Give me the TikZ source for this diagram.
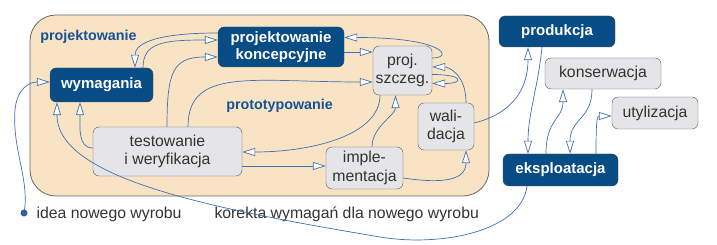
\documentclass[tikz,border=0pt]{standalone}
\usepackage{fontspec}
\setmainfont{Liberation Sans}
\definecolor{navy}{RGB}{8,76,134}
\definecolor{linkblue}{RGB}{62,112,180}
\definecolor{labelblue}{RGB}{22,82,150}
\definecolor{sand}{RGB}{249,227,197}
\definecolor{boxgray}{RGB}{229,229,231}
\usetikzlibrary{arrows.meta}

\begin{document}
\begin{tikzpicture}[x=1pt, y=-1pt,
  dbox/.style={draw=black!70, fill=navy, text=white, rounded corners=6pt, inner sep=0pt, align=center, font=\fontsize{15}{17.5}\selectfont\bfseries},
  gbox/.style={draw=black!65, fill=boxgray, text=black!80, rounded corners=6pt, inner sep=0pt, align=center, font=\fontsize{15.8}{18.5}\selectfont},
  stage/.style={text=labelblue, font=\fontsize{14.3}{16}\selectfont\bfseries},
  link/.style={draw=linkblue, line width=0.7pt, -{Triangle[length=13pt, width=8pt, fill=white]}},
  note/.style={anchor=west, text=black!80, font=\fontsize{15.8}{18}\selectfont}
]
  \useasboundingbox (0,0) rectangle (717,245);

  % design area
  \draw[fill=sand, draw=black!60, rounded corners=26pt, line width=0.8pt] (30,15) rectangle (489,196);
  \node[stage] (projlab) at (88.5,37) {projektowanie};
  \node[stage] (protolab) at (279.5,106) {prototypowanie};

  \node[dbox, minimum width=103pt, minimum height=34pt] (wym) at (101.5,85) {wymagania};
  \node[dbox, minimum width=126pt, minimum height=40pt] (pk) at (281,47) {projektowanie\\koncepcyjne};
  \node[gbox, minimum width=59pt, minimum height=49pt] (ps) at (402.5,70.5) {proj.\\szczeg.};
  \node[gbox, minimum width=56pt, minimum height=47pt] (wali) at (446,126.5) {wali-\\dacja};
  \node[gbox, minimum width=149pt, minimum height=49pt] (test) at (167.5,151.5) {testowanie\\i weryfikacja};
  \node[gbox, minimum width=77pt, minimum height=42pt] (impl) at (364.5,168) {imple-\\mentacja};

  \node[dbox, minimum width=116pt, minimum height=31pt] (prod) at (557,31.5) {produkcja};
  \node[gbox, minimum width=116pt, minimum height=31pt] (kons) at (603,73.5) {konserwacja};
  \node[gbox, minimum width=86pt, minimum height=32pt] (util) at (655,113) {utylizacja};
  \node[dbox, minimum width=115pt, minimum height=32pt] (eks) at (560.5,170) {eksploatacja};

  \coordinate (idea) at (24,213);
  \node[note] (idealab) at (33,214) {idea nowego wyrobu};
  \node[note] (koreklab) at (211,214) {korekta wymagań dla nowego wyrobu};

  % loops inside the design area
  \draw[link] (idea) .. controls (30,180) and (12,150) .. (15,110) .. controls (17,88) and (30,82) .. ([yshift=3pt]wym.west);
  \fill[linkblue!85!black] (idea) circle (3.5pt);
  \draw[link] ([xshift=41.5pt]wym.north) .. controls +(0pt,25pt) and +(-55pt,0pt) .. ([yshift=7pt]pk.west);
  \draw[link] ([yshift=14pt]pk.west) .. controls +(-60pt,0pt) and +(0pt,25pt) .. ([xshift=33.5pt]wym.north);
  \draw[link] ([xshift=-0.5pt]test.north) .. controls +(0pt,55pt) and +(-45pt,0pt) .. ([yshift=-10pt]pk.west);
  \draw[link] ([xshift=20.5pt]test.north) .. controls +(0pt,60pt) and +(-120pt,0pt) .. ([yshift=-11.5pt]ps.west);
  \draw[link] ([yshift=12.5pt]ps.east) .. controls +(22pt,0pt) and +(100pt,0pt) .. ([yshift=9.5pt]pk.east);
  \draw[link] ([yshift=-5pt]pk.east) -- ([yshift=18.5pt]ps.west);
  \draw[link] ([xshift=20pt]wali.north) .. controls +(0pt,30pt) and +(15pt,0pt) .. ([yshift=3.5pt]ps.east);
  \draw[link] ([yshift=-4pt]ps.east) .. controls +(32pt,0pt) and +(32pt,0pt) .. ([yshift=-13pt]ps.east);
  \draw[link] ([xshift=-22.5pt]ps.south) .. controls +(0pt,-40pt) and +(70pt,0pt) .. ([yshift=-0.5pt]test.east);
  \draw[link] ([yshift=-14.5pt]test.east) -- ([yshift=2pt]impl.west);
  \draw[link] ([yshift=-10pt]impl.east) .. controls +(40pt,-6pt) and +(0pt,-30pt) .. ([xshift=20pt]wali.south);
  \draw[link] ([xshift=7.5pt]impl.north) .. controls +(0pt,20pt) and +(0pt,-20pt) .. ([xshift=-7pt]ps.south);
  \draw[link] ([yshift=3.5pt]test.west) .. controls +(-15pt,0pt) and +(0pt,-25pt) .. ([xshift=-21.5pt]wym.south);

  % life cycle after the design
  \draw[link] ([yshift=3.5pt]wali.east) .. controls +(40pt,10pt) and +(0pt,-40pt) .. ([xshift=-29pt]prod.south);
  \draw[link] ([xshift=-15pt]prod.south) .. controls +(-4pt,-40pt) and +(0pt,40pt) .. ([xshift=-32.5pt]eks.north);
  \draw[link] ([xshift=-14.5pt]eks.north) .. controls +(0pt,35pt) and +(0pt,-30pt) .. ([xshift=-40pt]kons.south);
  \draw[link] ([xshift=-11pt]kons.south) .. controls +(0pt,-30pt) and +(0pt,35pt) .. ([xshift=9.5pt]eks.north);
  \draw[link] ([xshift=35.5pt]eks.north) .. controls +(0pt,30pt) and +(-15pt,0pt) .. ([yshift=-3pt]util.west);
  \draw[link] ([xshift=-33.5pt]eks.south) .. controls (521,232) and (440,247) .. (380,237) .. controls (220,210) and (57,180) .. ([xshift=-44.5pt]wym.south);
\end{tikzpicture}
\end{document}
